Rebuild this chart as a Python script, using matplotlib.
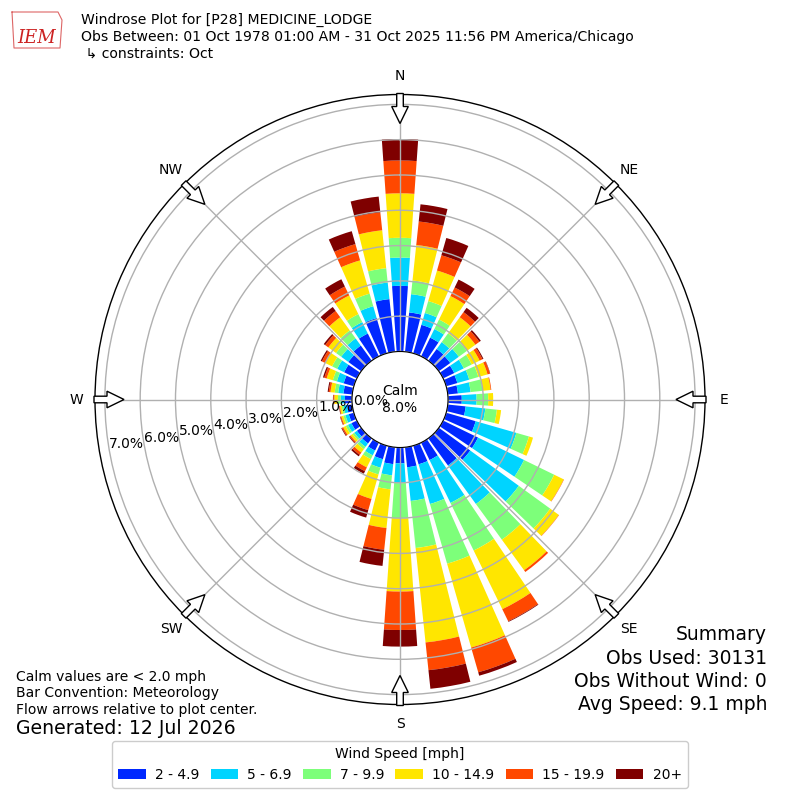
import numpy as np
import matplotlib
matplotlib.use('Agg')
import matplotlib.pyplot as plt
from matplotlib.patches import Rectangle, Polygon

# ---------------- data ----------------
directions = np.arange(0, 360, 10)  # degrees (meteorological, from)
speed_labels = ['2 - 4.9', '5 - 6.9', '7 - 9.9', '10 - 14.9', '15 - 19.9', '20+']
colors = ['#0028ff', '#00d4ff', '#7dff7a', '#ffe600', '#ff4800', '#7f0000']

# cumulative frequency (%) up to the top of each speed bin, per direction
cum_2_4_9 = [1.86, 1.12, 0.84, 0.59, 0.41, 0.40, 0.35, 0.33, 0.29, 0.39, 0.51, 0.87,
             1.10, 1.10, 0.95, 0.55, 0.55, 0.57, 0.45, 0.48, 0.40, 0.25, 0.18, 0.15,
             0.17, 0.15, 0.15, 0.20, 0.25, 0.30, 0.40, 0.45, 0.53, 0.72, 1.04, 1.50]
cum_5_6_9 = [2.66, 1.64, 1.19, 0.86, 0.65, 0.70, 0.65, 0.68, 0.65, 0.81, 1.07, 2.07,
             2.55, 2.80, 2.30, 1.90, 1.72, 1.53, 1.01, 0.80, 0.65, 0.40, 0.30, 0.24,
             0.28, 0.25, 0.24, 0.32, 0.40, 0.50, 0.62, 0.70, 0.78, 1.08, 1.39, 1.97]
cum_7_9_9 = [3.22, 2.03, 1.54, 1.16, 0.96, 0.98, 0.90, 0.95, 0.99, 1.14, 1.40, 2.44,
             3.50, 3.90, 3.55, 3.40, 3.48, 2.87, 2.01, 1.20, 0.85, 0.52, 0.38, 0.30,
             0.35, 0.31, 0.30, 0.40, 0.50, 0.62, 0.78, 0.88, 1.06, 1.33, 1.76, 2.38]
cum_10_14_9 = [4.48, 3.04, 2.44, 1.90, 1.52, 1.28, 1.15, 1.22, 1.22, 1.28, 1.52, 2.56,
               3.80, 4.20, 4.62, 5.25, 5.95, 5.56, 4.08, 2.30, 1.57, 0.78, 0.50, 0.37,
               0.43, 0.37, 0.35, 0.50, 0.62, 0.80, 1.00, 1.15, 1.52, 1.92, 2.74, 3.46]
cum_15_19_9 = [5.41, 3.71, 2.89, 2.17, 1.70, 1.42, 1.24, 1.29, 1.24, 1.28, 1.52, 2.56,
               3.81, 4.21, 4.68, 5.63, 6.68, 6.35, 5.17, 2.92, 1.90, 0.90, 0.58, 0.41,
               0.47, 0.40, 0.37, 0.53, 0.67, 0.87, 1.10, 1.26, 1.74, 2.20, 3.22, 3.97]
cum_20_plus = [6.02, 4.20, 3.40, 2.42, 1.85, 1.47, 1.27, 1.30, 1.24, 1.28, 1.52, 2.56,
               3.81, 4.21, 4.68, 5.65, 6.78, 6.88, 5.64, 3.38, 2.12, 0.98, 0.63, 0.43,
               0.49, 0.41, 0.38, 0.54, 0.70, 0.91, 1.14, 1.31, 1.88, 2.43, 3.60, 4.42]

calm_pct = 8.0
r_ticks = [0, 1, 2, 3, 4, 5, 6, 7]
compass = ['N', 'NE', 'E', 'SE', 'S', 'SW', 'W', 'NW']
compass_deg = [0, 45, 90, 135, 180, 225, 270, 315]

# ---------------- figure ----------------
W = H = 800
fig = plt.figure(figsize=(8, 8), dpi=100)

cx, cy, R = 400.0, 399.5, 305.0  # pixel geometry of the polar axes (top-down y)
ax = fig.add_axes([(cx - R) / W, (H - cy - R) / H, 2 * R / W, 2 * R / H],
                  projection='polar')
ax.set_theta_zero_location('N')
ax.set_theta_direction(-1)
rmax = 7.28
rorigin = -1.36
ax.set_rorigin(rorigin)
ax.set_ylim(0, rmax)

cums = [cum_2_4_9, cum_5_6_9, cum_7_9_9, cum_10_14_9, cum_15_19_9, cum_20_plus]
theta = np.radians(directions)
prev = np.zeros(len(directions))
for cum, col, lab in zip(cums, colors, speed_labels):
    cum = np.asarray(cum)
    ax.bar(theta, cum - prev, width=np.radians(8), bottom=prev, color=col,
           linewidth=0, label=lab)
    prev = cum

ax.set_yticks(r_ticks)
ax.set_yticklabels([f'{v:.1f}%' for v in r_ticks], fontsize=10)
ax.set_rlabel_position(260)
ax.set_xticks(np.radians(compass_deg))
ax.set_xticklabels([])
ax.grid(True, color='#b0b0b0', linewidth=1.0)
ax.spines['polar'].set_linewidth(1.0)

# overlay in pixel coordinates for decorations
oax = fig.add_axes([0, 0, 1, 1])
oax.set_xlim(0, W)
oax.set_ylim(H, 0)
oax.axis('off')
oax.patch.set_alpha(0)

# flow arrows and compass labels
for name, deg in zip(compass, compass_deg):
    t = np.radians(deg)
    out = np.array([np.sin(t), -np.cos(t)])
    u = -out
    v = np.array([np.cos(t), np.sin(t)])
    p0 = np.array([cx, cy]) + (R + 1) * out
    shape = [(0, -3.3), (13, -3.3), (13, -8.3), (30, 0), (13, 8.3), (13, 3.3), (0, 3.3)]
    pts = [p0 + s * u + q * v for s, q in shape]
    oax.add_patch(Polygon(pts, closed=True, facecolor='white', edgecolor='black',
                          linewidth=1.0, zorder=5))
    lp = np.array([cx, cy]) + 324 * out
    oax.text(lp[0], lp[1], name, ha='center', va='center', fontsize=10)

# calm text
oax.text(cx, cy, f'Calm\n{calm_pct:.1f}%', ha='center', va='center', fontsize=10,
         linespacing=1.2)

# header
oax.text(81, 20, 'Windrose Plot for [P28] MEDICINE_LODGE', fontsize=10.1, va='center')
oax.text(81, 37.5, 'Obs Between: 01 Oct 1978 01:00 AM - 31 Oct 2025 11:56 PM America/Chicago',
         fontsize=10.1, va='center')
oax.text(81, 54, ' \u21b3 constraints: Oct', fontsize=10.1, va='center')
oax.text(37, 38, 'IEM', fontsize=13, color='#cc2222', family='DejaVu Serif',
         style='italic', ha='center', va='center')
oax.plot([12, 58, 62, 60, 14, 12], [12, 12, 20, 48, 48, 12], color='#dd6666', lw=0.8)

# bottom-left notes
oax.text(16, 677, 'Calm values are < 2.0 mph', fontsize=10, va='center')
oax.text(16, 693.5, 'Bar Convention: Meteorology', fontsize=10, va='center')
oax.text(16, 710, 'Flow arrows relative to plot center.', fontsize=10, va='center')
oax.text(16, 729, 'Generated: 12 Jul 2026', fontsize=13.6, va='center')

# summary
summ = ['Summary', 'Obs Used: 30131', 'Obs Without Wind: 0', 'Avg Speed: 9.1 mph']
for i, s in enumerate(summ):
    oax.text(767, 635 + i * 23.3, s, fontsize=13.5, ha='right', va='center')

# legend
handles = [Rectangle((0, 0), 1, 1, facecolor=c, edgecolor='none') for c in colors]
leg = fig.legend(handles, speed_labels, loc='lower center', bbox_to_anchor=(0.5, 0.006),
                 ncol=6, title='Wind Speed [mph]', fontsize=10, title_fontsize=10,
                 handlelength=2.0, handletextpad=0.65, columnspacing=0.8,
                 borderpad=0.45, framealpha=1.0, edgecolor='#cccccc')

fig.savefig('out.png', dpi=100)
